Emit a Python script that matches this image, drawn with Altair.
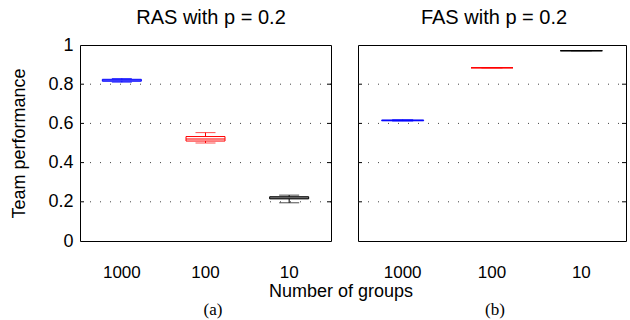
import altair as alt
import pandas as pd

groups = ["1000", "100", "10"]
colors = ["#0000ff", "#ff0000", "#000000"]

ras_lo = [0.810, 0.500, 0.195]
ras_q1 = [0.815, 0.510, 0.215]
ras_med = [0.820, 0.520, 0.220]
ras_q3 = [0.825, 0.533, 0.226]
ras_hi = [0.829, 0.553, 0.234]

fas_lo = [0.612, 0.884, 0.971]
fas_q1 = [0.614, 0.884, 0.971]
fas_med = [0.615, 0.884, 0.971]
fas_q3 = [0.617, 0.884, 0.971]
fas_hi = [0.619, 0.884, 0.971]

y_ticks = [0, 0.2, 0.4, 0.6, 0.8, 1]
grid_vals = [0.2, 0.4, 0.6, 0.8]

FONT = "Liberation Sans"
H = 196


def panel(lo, q1, med, q3, hi, title, label, w, boxw, capw, show_y, lab_x, title_x):
    df = pd.DataFrame({"g": groups, "lo": lo, "q1": q1, "med": med, "q3": q3, "hi": hi})
    x = alt.X("g:N", sort=groups, title=None,
              scale=alt.Scale(paddingInner=0, paddingOuter=0),
              axis=alt.Axis(labelAngle=0, ticks=False, domain=False, labelFontSize=17,
                            labelFont=FONT, labelColor="#000", labelPadding=23))
    yscale = alt.Scale(domain=[0, 1], nice=False)
    if show_y:
        yaxis = alt.Axis(values=y_ticks, labelExpr="datum.value == 0 ? '0' : datum.value == 1 ? '1' : format(datum.value, '.1f')",
                         grid=False, ticks=False, domain=False, labelFontSize=18, labelFont=FONT,
                         labelColor="#000", labelPadding=7, labelOverlap=False,
                         title="Team performance",
                         titleFontSize=18, titleFont=FONT, titleFontWeight="normal",
                         titleColor="#000", titlePadding=19)
    else:
        yaxis = None
    col = alt.Color("g:N", scale=alt.Scale(domain=groups, range=colors), legend=None)
    strk = alt.Stroke("g:N", scale=alt.Scale(domain=groups, range=colors), legend=None)
    base = alt.Chart(df)

    def yn(f):
        return alt.Y(f, scale=yscale, axis=yaxis)

    gdf = pd.DataFrame({"v": grid_vals})
    grid = alt.Chart(gdf).mark_rule(strokeDash=[1, 9], color="#444", strokeWidth=1).encode(
        y=yn("v:Q"), x=alt.value(0), x2=alt.value(w))
    tl = alt.Chart(gdf).mark_rule(color="#000", strokeWidth=1).encode(
        y=yn("v:Q"), x=alt.value(0), x2=alt.value(4))
    tr = alt.Chart(gdf).mark_rule(color="#000", strokeWidth=1).encode(
        y=yn("v:Q"), x=alt.value(w - 4), x2=alt.value(w))

    whisk_lo = base.mark_rule(strokeWidth=1).encode(x=x, y=yn("lo:Q"), y2="q1:Q", color=col)
    whisk_hi = base.mark_rule(strokeWidth=1).encode(x=x, y=yn("q3:Q"), y2="hi:Q", color=col)
    cap_lo = base.mark_tick(size=capw, thickness=1).encode(x=x, y=yn("lo:Q"), color=col)
    cap_hi = base.mark_tick(size=capw, thickness=1).encode(x=x, y=yn("hi:Q"), color=col)
    box = base.mark_bar(width=boxw, fillOpacity=0, strokeWidth=1).encode(
        x=x, y=yn("q1:Q"), y2="q3:Q", stroke=strk)
    medl = base.mark_tick(size=boxw, thickness=1.5).encode(x=x, y=yn("med:Q"), color=col)

    lab = alt.Chart(pd.DataFrame({"t": [label]})).mark_text(
        font="Liberation Serif", fontSize=17, color="#000", baseline="middle").encode(
        text="t:N", x=alt.value(lab_x), y=alt.value(265))

    ttl = alt.Chart(pd.DataFrame({"t": [title]})).mark_text(
        font=FONT, fontSize=20, color="#000", baseline="middle").encode(
        text="t:N", x=alt.value(title_x), y=alt.value(-27))

    layers = [grid, tl, tr, whisk_lo, whisk_hi, cap_lo, cap_hi, box, medl, lab, ttl]
    if show_y:
        xt = alt.Chart(pd.DataFrame({"t": ["Number of groups"]})).mark_text(
            font=FONT, fontSize=18, color="#000", baseline="middle").encode(
            text="t:N", x=alt.value(261), y=alt.value(247))
        layers.append(xt)
    return alt.layer(*layers).properties(width=w, height=H)


left = panel(ras_lo, ras_q1, ras_med, ras_q3, ras_hi, "RAS with p = 0.2", "(a)", 251, 39, 20, True, 133, 131)
right = panel(fas_lo, fas_q1, fas_med, fas_q3, fas_hi, "FAS with p = 0.2", "(b)", 268, 42, 21, False, 137, 136)

chart = alt.hconcat(left, right, spacing=27, bounds="flush").properties(
    padding={"left": 10, "top": 7, "right": 0, "bottom": 0}, background="white"
).configure_view(stroke="#000", strokeWidth=1)

chart.save("out.html", embed_options={"renderer": "svg", "actions": False})
